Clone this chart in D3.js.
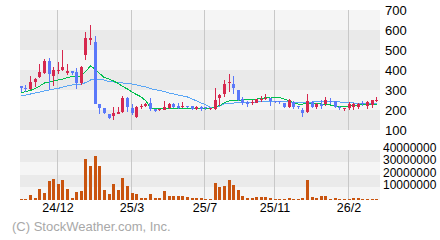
<!DOCTYPE html>
<html><head><meta charset="utf-8">
<script src="https://cdn.jsdelivr.net/npm/d3@7"></script>
<style>html,body{margin:0;padding:0;background:#fff;}svg{display:block;}</style>
</head><body><svg id="c" width="440" height="240"></svg>
<script>
const openP  = [320,310,305,340,365,385,445,370,395,400,385,395,390,335,475,550,540,230,210,180,170,180,190,260,210,165,220,220,235,205,200,200,210,230,220,215,220,220,205,215,215,205,205,260,280,335,330,300,255,240,235,235,250,255,260,245,245,235,215,240,220,200,190,240,215,230,230,245,245,215,205,210,215,215,235,220,225,245];
const closeP = [310,305,340,355,390,445,380,400,400,415,395,385,335,415,560,560,230,210,185,160,185,190,260,215,185,215,222,230,205,195,205,215,230,215,210,220,215,205,215,205,210,210,250,275,330,340,310,250,235,230,240,255,255,260,245,240,240,215,250,215,215,185,245,215,230,220,250,240,215,210,210,230,230,230,230,240,250,250];
const highP  = [320,325,370,360,430,455,460,415,440,500,430,395,410,420,590,625,570,230,210,180,215,215,270,265,230,220,230,235,260,205,205,245,235,235,235,240,220,220,220,220,215,210,310,280,350,380,370,300,265,245,250,255,270,280,260,245,245,235,255,245,220,210,280,245,235,250,265,260,245,220,210,240,235,235,245,245,250,265];
const lowP   = [290,292,300,315,360,380,300,320,380,395,375,375,305,325,450,525,230,180,180,155,150,180,185,190,175,160,205,215,195,190,195,200,205,210,205,210,210,200,200,195,200,200,200,220,265,290,280,245,225,215,225,235,240,250,220,235,230,210,210,205,205,165,185,210,205,205,220,230,210,200,195,200,200,205,220,205,210,240];
const volumeM = [0.8,0.8,4,1.6,8.8,5.6,15.2,16.8,12.8,16,8.8,1.6,6.4,7.2,32.8,27.2,35.2,27.2,8,4.8,12.8,8,17.6,11.2,5.6,4.8,1.6,1.6,4.8,1.6,1.6,7.2,3.2,3.2,3.2,3.2,2.4,1.6,1.6,1.6,0.8,0.8,13.6,10.4,11.2,16,12,8,3.2,1.6,1.6,2.4,2.4,2.4,1.6,0.8,0.8,0.8,1.6,0.8,0.8,1.6,16,2.4,1.6,3.2,3.2,0.8,1.6,0.8,0.8,0.8,1.6,1.6,0.8,0.8,0.8,0.8];
const maShort = [287,292,298,307,320,335,340,345,350,355,362,367,367,370,395,420,405,382,362,355,345,333,317,305,290,277,265,245,212,207,208,208,208,208,208,208,208,208,208,208,208,208,215,222,237,245,248,250,250,252,255,255,257,262,265,265,262,255,247,235,230,230,232,235,235,230,230,225,220,220,220,220,222,225,227,230,230,230];
const maLong  = [270,275,280,285,290,295,300,305,308,315,320,325,327,330,337,350,355,355,350,342,340,337,335,332,330,325,320,315,307,302,297,292,285,280,275,270,265,255,245,235,225,212,215,220,230,232,235,237,240,240,240,240,242,242,245,245,245,245,240,240,240,240,240,240,242,245,245,245,245,240,240,237,235,235,235,235,235,235];
const tickIndex = [8,24,40,55,71];
const tickLabels = ["24/12","25/3","25/7","25/11","26/2"];
const priceTicks = [100,200,300,400,500,600,700];
const volTicks = [10000000,20000000,30000000,40000000];
const copyright = "(C) StockWeather.com, Inc.";

const svg = d3.select("#c");
const n = closeP.length;
const idx = d3.range(n);
const x = d3.scaleBand().domain(idx).range([19,379]).padding(0);
const cx = i => x(i) + x.bandwidth()/2;
const y = d3.scaleLinear().domain([100,700]).range([130,10]);
const yv = d3.scaleLinear().domain([0,40000000]).range([200,150]);
const L = 20, R = 380;
const font = "'Liberation Sans Narrow', 'Liberation Sans', Arial, sans-serif";

for (let k=0;k<6;k++){
  const top = y(700-100*k), bot = y(600-100*k);
  svg.append("rect").attr("x",L).attr("y",top).attr("width",R-L).attr("height",bot-top)
    .attr("fill", k%2===0 ? "#f5f5f5" : "#eaeaea");
}
for (let k=0;k<4;k++){
  const top = yv(40000000-10000000*k), bot = yv(30000000-10000000*k);
  svg.append("rect").attr("x",L).attr("y",top).attr("width",R-L).attr("height",bot-top)
    .attr("fill", k%2===0 ? "#eaeaea" : "#f5f5f5");
}
tickIndex.forEach(i=>{
  const gx = Math.floor(cx(i)) - 0.5;
  svg.append("line").attr("x1",gx).attr("x2",gx).attr("y1",10).attr("y2",130).attr("stroke","#c8c8c8");
  svg.append("line").attr("x1",gx).attr("x2",gx).attr("y1",150).attr("y2",200).attr("stroke","#c8c8c8");
});

const lineGen = arr => d3.line().x((d,i)=>cx(i)).y(d=>y(d))(arr);
svg.append("path").attr("d",lineGen(maLong)).attr("fill","none").attr("stroke","#5aa6f5").attr("stroke-width",1).attr("shape-rendering","crispEdges");
svg.append("path").attr("d",lineGen(maShort)).attr("fill","none").attr("stroke","#00c04e").attr("stroke-width",1).attr("shape-rendering","crispEdges");

const UP = "#d6284e", DOWN = "#5b79fa";
const g = svg.append("g").attr("shape-rendering","crispEdges");
idx.forEach(i=>{
  const up = closeP[i] >= openP[i];
  const col = up ? UP : DOWN;
  const c = Math.floor(cx(i));
  g.append("rect").attr("x",c).attr("y",y(highP[i])).attr("width",1).attr("height",Math.max(1,y(lowP[i])-y(highP[i]))).attr("fill",col);
  const top = y(Math.max(openP[i],closeP[i])), bot = y(Math.min(openP[i],closeP[i]));
  g.append("rect").attr("x",c-1).attr("y",top).attr("width",3).attr("height",Math.max(1,bot-top)).attr("fill",col);
});

idx.forEach(i=>{
  const c = Math.floor(cx(i));
  const v = volumeM[i]*1e6;
  g.append("rect").attr("x",c-1).attr("y",yv(v)).attr("width",3).attr("height",200-yv(v)).attr("fill","#c9540f");
});

priceTicks.forEach(t=>{
  svg.append("text").attr("x",385).attr("y",y(t)+4.5).text(t)
    .attr("font-family",font).attr("font-size",13).attr("fill","#000");
});
volTicks.forEach(t=>{
  svg.append("text").attr("x",383).attr("y",yv(t)+1.5).text(t)
    .attr("font-family",font).attr("font-size",12).attr("fill","#000");
});
tickIndex.forEach((i,k)=>{
  svg.append("text").attr("x",Math.floor(cx(i))).attr("y",211.5).attr("text-anchor","middle").text(tickLabels[k])
    .attr("font-family",font).attr("font-size",12.5).attr("fill","#000");
});
svg.append("text").attr("x",12).attr("y",231).text(copyright)
  .attr("font-family",font).attr("font-size",13).attr("fill","#a8a8a8");
</script></body></html>
